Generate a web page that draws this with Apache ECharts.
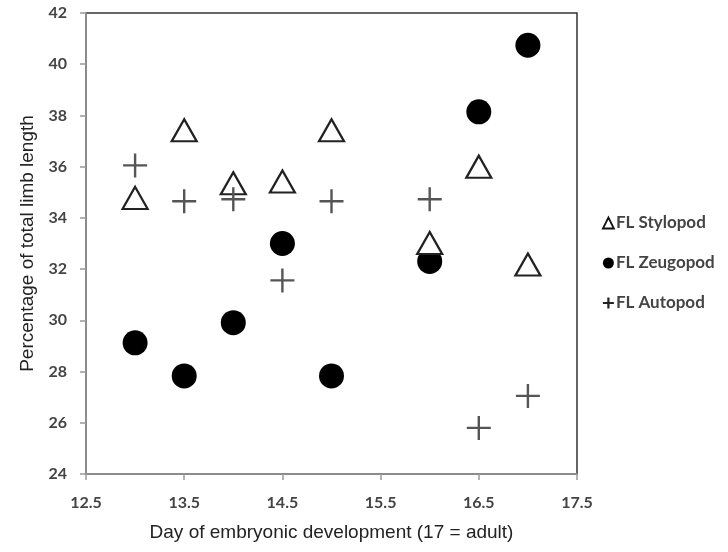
<!DOCTYPE html>
<html>
<head>
<meta charset="utf-8">
<script src="https://cdn.jsdelivr.net/npm/echarts@6/dist/echarts.min.js"></script>
<style>html,body{margin:0;padding:0;background:#fff;}#c{width:728px;height:552px;}</style>
</head>
<body>
<div id="c"></div>
<script>
var days = [13, 13.5, 14, 14.5, 15, 16, 16.5, 17];
var stylopod = [34.78, 37.42, 35.35, 35.42, 37.42, 33.02, 36.0, 32.18];
var zeugopod = [29.12, 27.83, 29.91, 33.0, 27.83, 32.3, 38.14, 40.74];
var autopod  = [36.05, 34.65, 34.73, 31.56, 34.65, 34.73, 25.8, 27.05];
var xTicks = [12.5, 13.5, 14.5, 15.5, 16.5, 17.5];
var seriesNames = ['FL Stylopod', 'FL Zeugopod', 'FL Autopod'];

function pairs(vals) { return days.map(function (d, i) { return [d, vals[i]]; }); }
var plusPath = 'path://M4.5,0H5.5V4.5H10V5.5H5.5V10H4.5V5.5H0V4.5H4.5Z';
var plusPathBold = 'path://M4,0H6V4H10V6H6V10H4V6H0V4H4Z';

var chart = echarts.init(document.getElementById('c'), null, {renderer: 'canvas'});
chart.setOption({
  backgroundColor: '#fff',
  animation: false,
  grid: {left: 86, right: 151, top: 13, bottom: 78, show: true, borderColor: '#333', borderWidth: 1.5, backgroundColor: 'transparent'},
  xAxis: {
    type: 'value', min: 12.5, max: 17.5, interval: 0.5,
    name: 'Day of embryonic development (17 = adult)',
    nameLocation: 'middle', nameGap: 49,
    nameTextStyle: {fontFamily: 'Liberation Sans', fontSize: 19, color: '#222'},
    axisLine: {show: true, lineStyle: {color: '#999', width: 1.5}},
    axisTick: {show: true, customValues: xTicks, length: 6, lineStyle: {color: '#999', width: 1.5}},
    axisLabel: {customValues: xTicks, margin: 21, fontFamily: 'Lato', fontSize: 16, fontWeight: 'bold', color: '#444'},
    splitLine: {show: false}
  },
  yAxis: {
    type: 'value', min: 24, max: 42, interval: 2,
    name: 'Percentage of total limb length',
    nameLocation: 'middle', nameGap: 49,
    nameTextStyle: {fontFamily: 'Liberation Sans', fontSize: 19, color: '#222'},
    axisLine: {show: true, lineStyle: {color: '#999', width: 1.5}},
    axisTick: {show: true, length: 6, lineStyle: {color: '#999', width: 1.5}},
    axisLabel: {margin: 19, fontFamily: 'Lato', fontSize: 16, fontWeight: 'bold', color: '#444'},
    splitLine: {show: false}
  },
  legend: {
    orient: 'vertical', left: 597, top: 208,
    itemWidth: 11, itemHeight: 11, itemGap: 20, selectedMode: false,
    textStyle: {fontFamily: 'Lato', fontSize: 17, fontWeight: 'bold', color: '#444', lineHeight: 20, padding: [0, 0, 0, -3]},
    data: [
      {name: seriesNames[0], icon: 'triangle', itemStyle: {color: '#fff', borderColor: '#111', borderWidth: 1.8}},
      {name: seriesNames[1], icon: 'circle', itemStyle: {color: '#000'}},
      {name: seriesNames[2], icon: plusPathBold, itemStyle: {color: '#222'}}
    ]
  },
  series: [
    {name: seriesNames[0], type: 'scatter', data: pairs(stylopod), symbol: 'triangle', symbolSize: [25, 22],
     itemStyle: {color: '#fff', borderColor: '#222', borderWidth: 2.2, opacity: 1}, z: 3},
    {name: seriesNames[1], type: 'scatter', data: pairs(zeugopod), symbol: 'circle', symbolSize: 25,
     itemStyle: {color: '#000', opacity: 1}, z: 2},
    {name: seriesNames[2], type: 'scatter', data: pairs(autopod), symbol: plusPath, symbolSize: 24,
     itemStyle: {color: '#555', opacity: 1}, z: 4}
  ]
});
</script>
</body>
</html>
